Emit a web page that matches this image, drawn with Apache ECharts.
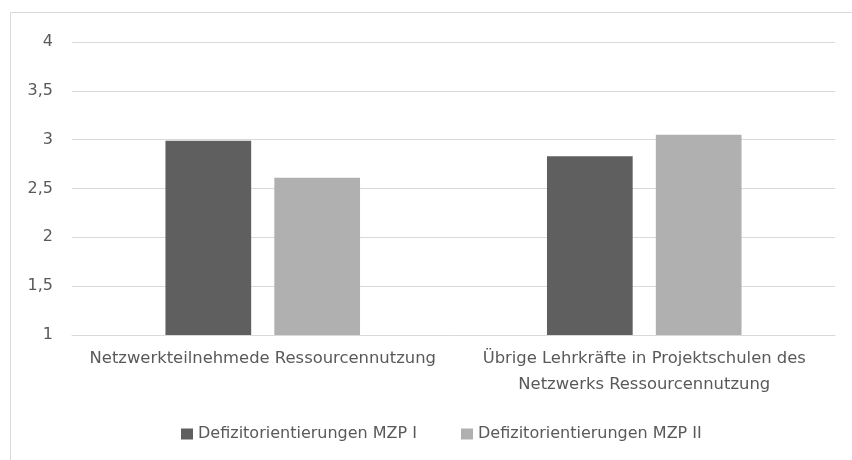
<!DOCTYPE html>
<html>
<head>
<meta charset="utf-8">
<script src="https://cdn.jsdelivr.net/npm/echarts@6/dist/echarts.min.js"></script>
<style>html,body{margin:0;padding:0;background:#fff}#c{width:852px;height:460px}</style>
</head>
<body>
<div id="c"></div>
<script>
const categories = ['Netzwerkteilnehmede Ressourcennutzung', 'Übrige Lehrkräfte in Projektschulen des\nNetzwerks Ressourcennutzung'];
const seriesNames = ['Defizitorientierungen MZP I', 'Defizitorientierungen MZP II'];
const mzp1 = [2.99, 2.83];
const mzp2 = [2.61, 3.05];
const yTicks = [1, 1.5, 2, 2.5, 3, 3.5, 4];

const font = 'DejaVu Sans';
const txt = '#595959';
const chart = echarts.init(document.getElementById('c'), null, {renderer: 'canvas'});
chart.setOption({
  animation: false,
  backgroundColor: '#fff',
  graphic: [{
    type: 'rect', shape: {x: 10.5, y: 12.5, width: 900, height: 500},
    style: {fill: 'none', stroke: '#d9d9d9', lineWidth: 1}, silent: true
  }],
  grid: {left: 72, right: 17, top: 42, bottom: 125, containLabel: false},
  legend: {
    data: seriesNames, left: 176, top: 421, itemWidth: 12, itemHeight: 11, itemGap: 44,
    icon: 'rect',
    textStyle: {color: txt, fontFamily: font, fontSize: 16}
  },
  xAxis: {
    type: 'category', data: categories,
    axisLine: {lineStyle: {color: '#d9d9d9', width: 1}},
    axisTick: {show: false},
    axisLabel: {color: txt, fontFamily: font, fontSize: 16.4, margin: 11, lineHeight: 26, verticalAlign: 'top', interval: 0}
  },
  yAxis: {
    type: 'value', min: yTicks[0], max: yTicks[yTicks.length - 1], interval: 0.5,
    axisLine: {show: false}, axisTick: {show: false},
    splitLine: {lineStyle: {color: '#d9d9d9', width: 1}},
    axisLabel: {color: txt, fontFamily: font, fontSize: 16, margin: 19,
      formatter: v => String(v).replace('.', ',')}
  },
  series: [
    {name: seriesNames[0], type: 'bar', data: mzp1, itemStyle: {color: '#5f5f5f'}, barGap: '27%', barCategoryGap: '49%'},
    {name: seriesNames[1], type: 'bar', data: mzp2, itemStyle: {color: '#b0b0b0'}, barGap: '27%', barCategoryGap: '49%'}
  ]
});
</script>
</body>
</html>
